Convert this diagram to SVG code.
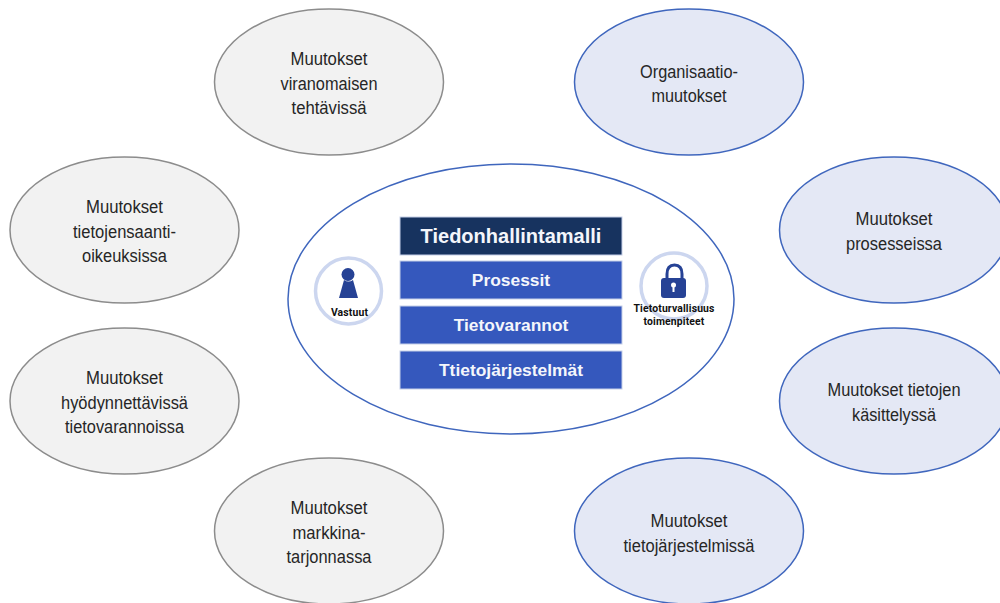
<svg xmlns="http://www.w3.org/2000/svg" width="1000" height="603" viewBox="0 0 1000 603">
<style>
.g{fill:#f2f2f2;stroke:#8c8c8c;stroke-width:1.5}
.b{fill:#e4e8f5;stroke:#3f66bd;stroke-width:1.5}
.t{font-family:"Liberation Sans",Arial,sans-serif;font-size:17.5px;fill:#262626;text-anchor:middle}
.w{font-family:"Liberation Sans",Arial,sans-serif;font-weight:bold;fill:#f4f6fb;text-anchor:middle;font-size:17.4px}
.s{font-family:"Roboto","Liberation Sans",sans-serif;font-weight:bold;font-size:10.4px;letter-spacing:.15px;fill:#111;text-anchor:middle}
.r{fill:#3558bd;stroke:#c5cfe8;stroke-width:1}
.i{fill:#fff;stroke:#ccd6ef;stroke-width:3.5}
.d{fill:#264295}
</style>
<rect width="1000" height="603" fill="#fff"/>
<g id="connectors"/>
<g id="n1"><ellipse class="g" cx="329" cy="82" rx="114.500" ry="73"/><text class="t" x="329" y="65" textLength="77" lengthAdjust="spacingAndGlyphs">Muutokset</text><text class="t" x="329" y="90" textLength="97" lengthAdjust="spacingAndGlyphs">viranomaisen</text><text class="t" x="329" y="114" textLength="75" lengthAdjust="spacingAndGlyphs">tehtävissä</text></g>
<g id="n2"><ellipse class="g" cx="124.500" cy="230" rx="114.500" ry="73"/><text class="t" x="124.500" y="213" textLength="77" lengthAdjust="spacingAndGlyphs">Muutokset</text><text class="t" x="124.500" y="238" textLength="103" lengthAdjust="spacingAndGlyphs">tietojensaanti-</text><text class="t" x="124.500" y="262" textLength="85" lengthAdjust="spacingAndGlyphs">oikeuksissa</text></g>
<g id="n3"><ellipse class="g" cx="124.500" cy="401" rx="114.500" ry="73"/><text class="t" x="124.500" y="384" textLength="77" lengthAdjust="spacingAndGlyphs">Muutokset</text><text class="t" x="124.500" y="409" textLength="127" lengthAdjust="spacingAndGlyphs">hyödynnettävissä</text><text class="t" x="124.500" y="433" textLength="119" lengthAdjust="spacingAndGlyphs">tietovarannoissa</text></g>
<g id="n4"><ellipse class="g" cx="329" cy="531" rx="114.500" ry="73"/><text class="t" x="329" y="514" textLength="77" lengthAdjust="spacingAndGlyphs">Muutokset</text><text class="t" x="329" y="539" textLength="73" lengthAdjust="spacingAndGlyphs">markkina-</text><text class="t" x="329" y="563" textLength="85" lengthAdjust="spacingAndGlyphs">tarjonnassa</text></g>
<g id="n5"><ellipse class="b" cx="689" cy="82" rx="114.500" ry="73"/><text class="t" x="689" y="78" textLength="98" lengthAdjust="spacingAndGlyphs">Organisaatio-</text><text class="t" x="689" y="102" textLength="75" lengthAdjust="spacingAndGlyphs">muutokset</text></g>
<g id="n6"><ellipse class="b" cx="894" cy="230" rx="114.500" ry="73"/><text class="t" x="894" y="225" textLength="77" lengthAdjust="spacingAndGlyphs">Muutokset</text><text class="t" x="894" y="250" textLength="96" lengthAdjust="spacingAndGlyphs">prosesseissa</text></g>
<g id="n7"><ellipse class="b" cx="894" cy="401" rx="114.500" ry="73"/><text class="t" x="894" y="396" textLength="133" lengthAdjust="spacingAndGlyphs">Muutokset tietojen</text><text class="t" x="894" y="421" textLength="84" lengthAdjust="spacingAndGlyphs">käsittelyssä</text></g>
<g id="n8"><ellipse class="b" cx="689" cy="531" rx="114.500" ry="73"/><text class="t" x="689" y="527" textLength="77" lengthAdjust="spacingAndGlyphs">Muutokset</text><text class="t" x="689" y="552" textLength="131" lengthAdjust="spacingAndGlyphs">tietojärjestelmissä</text></g>
<g id="center"><ellipse cx="511" cy="299" rx="223" ry="135" fill="#fff" stroke="#3f66bd" stroke-width="1.500"/></g>
<g id="title"><rect x="400" y="217" width="222" height="38" fill="#17335f" stroke="#c5cfe8"/><text class="w" x="511" y="243" style="font-size:20px">Tiedonhallintamalli</text></g>
<g id="l1"><rect class="r" x="400" y="261" width="222" height="38"/><text class="w" x="511" y="286">Prosessit</text></g>
<g id="l2"><rect class="r" x="400" y="306" width="222" height="38"/><text class="w" x="511" y="331">Tietovarannot</text></g>
<g id="l3"><rect class="r" x="400" y="351" width="222" height="38"/><text class="w" x="511" y="376">Ttietojärjestelmät</text></g>
<g id="vastuut"><circle class="i" cx="348.500" cy="291" r="33"/><circle class="d" cx="348" cy="274.500" r="6.500"/><path class="d" d="M344 280Q348.500 283 353 280L358 298H339Z"/><text class="s" x="349.500" y="316">Vastuut</text></g>
<g id="turva"><circle class="i" cx="674" cy="286" r="33"/><path d="M667 279V274Q667 265 674.500 265Q682 265 682 274V279" fill="none" stroke="#264295" stroke-width="3"/><rect class="d" x="661" y="278" width="25" height="20" rx="3"/><circle cx="673.500" cy="285" r="2.500" fill="#fff"/><rect x="672.500" y="286" width="2" height="6" fill="#fff"/><text class="s" x="674" y="312">Tietoturvallisuus</text><text class="s" x="674" y="325">toimenpiteet</text></g>
</svg>
